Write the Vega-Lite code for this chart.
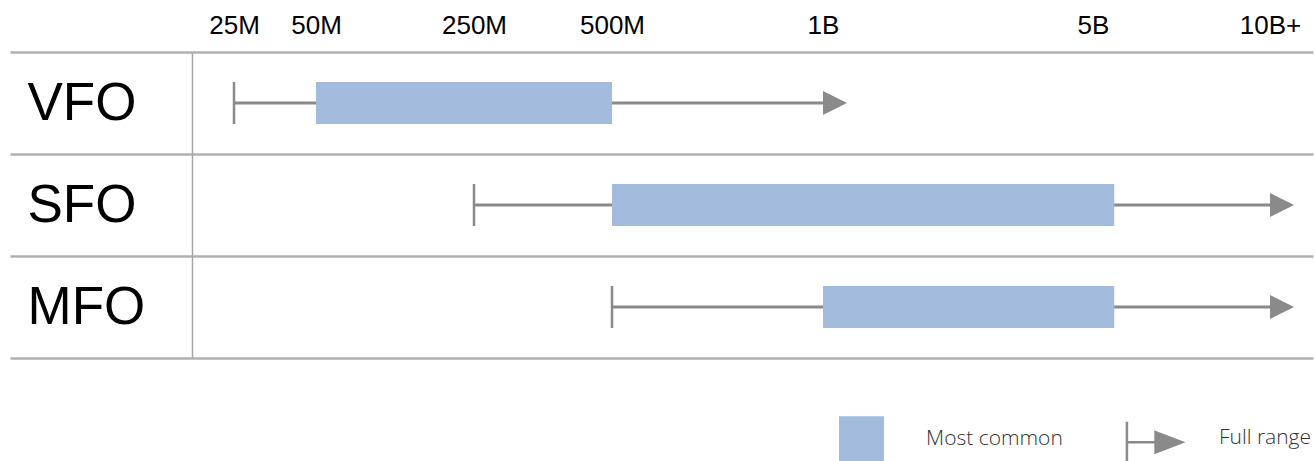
{
  "$schema": "https://vega.github.io/schema/vega-lite/v6.json",
  "autosize": {"type": "none"},
  "padding": {"left": 192, "top": 52, "right": 2, "bottom": 103},
  "width": 1121,
  "height": 306,
  "background": "white",
  "config": {"view": {"stroke": null}, "font": "Liberation Sans"},
  "data": {
    "values": [
      {"fund": "VFO", "min": 25, "lo": 50, "hi": 500, "max": 1000},
      {"fund": "SFO", "min": 250, "lo": 500, "hi": 5600, "max": 10000},
      {"fund": "MFO", "min": 500, "lo": 1000, "hi": 5600, "max": 10000}
    ]
  },
  "encoding": {
    "y": {
      "field": "fund",
      "type": "nominal",
      "sort": null,
      "scale": {"paddingInner": 0, "paddingOuter": 0},
      "axis": {
        "orient": "left",
        "title": null,
        "domain": true,
        "domainColor": "#a6a6a6",
        "domainWidth": 1.5,
        "ticks": true,
        "tickSize": 182,
        "tickBand": "extent",
        "tickColor": "#b0b0b0",
        "tickWidth": 2.5,
        "grid": true,
        "gridColor": "#b0b0b0",
        "gridWidth": 2.5,
        "gridOpacity": 1,
        "labelFontSize": 53,
        "labelFontWeight": "normal",
        "labelColor": "#000000",
        "labelAlign": "left",
        "labelBaseline": "middle",
        "labelPadding": -17
      }
    }
  },
  "layer": [
    {
      "mark": {"type": "rule", "strokeWidth": 3},
      "encoding": {
        "x": {
          "field": "min",
          "type": "quantitative",
          "scale": {
            "type": "linear",
            "domain": [0, 25, 50, 250, 500, 1000, 5000, 10000, 12000],
            "range": [0, 42, 124, 282, 420, 631, 901, 1078, 1121],
            "clamp": false,
            "nice": false,
            "zero": false
          },
          "axis": {
            "orient": "top",
            "values": [25, 50, 250, 500, 1000, 5000, 10000],
            "labelExpr": "datum.value == 10000 ? '10B+' : (datum.value >= 1000 ? (datum.value / 1000) + 'B' : datum.value + 'M')",
            "domain": false,
            "ticks": false,
            "grid": false,
            "title": null,
            "labelFontSize": 26,
            "labelFontWeight": "normal",
            "labelColor": "#000000",
            "labelPadding": 19,
            "labelBaseline": "alphabetic",
            "labelFlush": false,
            "labelOverlap": false
          }
        },
        "x2": {"field": "max"},
        "color": {"datum": "Full range", "type": "nominal"}
      }
    },
    {
      "mark": {"type": "bar", "size": 42},
      "encoding": {
        "x": {"field": "lo", "type": "quantitative"},
        "x2": {"field": "hi"},
        "color": {
          "datum": "Most common",
          "type": "nominal",
          "scale": {"domain": ["Most common", "Full range"], "range": ["#a3bbdd", "#8a8a8a"]},
          "legend": {
            "title": null,
            "orient": "none",
            "legendX": 647,
            "legendY": 363,
            "direction": "horizontal",
            "symbolSize": 1800,
            "symbolStrokeWidth": 2.5,
            "labelFontSize": 21,
            "labelFont": "Open Sans",
            "labelFontWeight": 300,
            "labelColor": "#333333",
            "labelOffset": 42,
            "columnPadding": 58,
            "padding": 0,
            "encode": {
              "symbols": {
                "update": {
                  "shape": {"signal": "datum.value === 'Most common' ? 'square' : 'M-1.3,-0.75L-1.3,1.1M-1.3,0.22L0.05,0.22M0.05,-0.26L1.3,0.22L0.05,0.7Z'"},
                  "fill": {"signal": "datum.value === 'Most common' ? '#a3bbdd' : '#8a8a8a'"},
                  "stroke": {"signal": "datum.value === 'Most common' ? 'transparent' : '#8a8a8a'"},
                  "strokeWidth": {"value": 2.5},
                  "opacity": {"value": 1}
                }
              }
            }
          }
        }
      }
    },
    {
      "mark": {"type": "tick", "size": 42, "thickness": 2.5, "color": "#8a8a8a", "opacity": 1},
      "encoding": {
        "x": {"field": "min", "type": "quantitative"}
      }
    },
    {
      "mark": {"type": "point", "shape": "M0,-1L2,0L0,1Z", "size": 576, "filled": true, "color": "#8a8a8a", "opacity": 1, "strokeWidth": 0},
      "encoding": {
        "x": {"field": "max", "type": "quantitative"}
      }
    }
  ]
}
